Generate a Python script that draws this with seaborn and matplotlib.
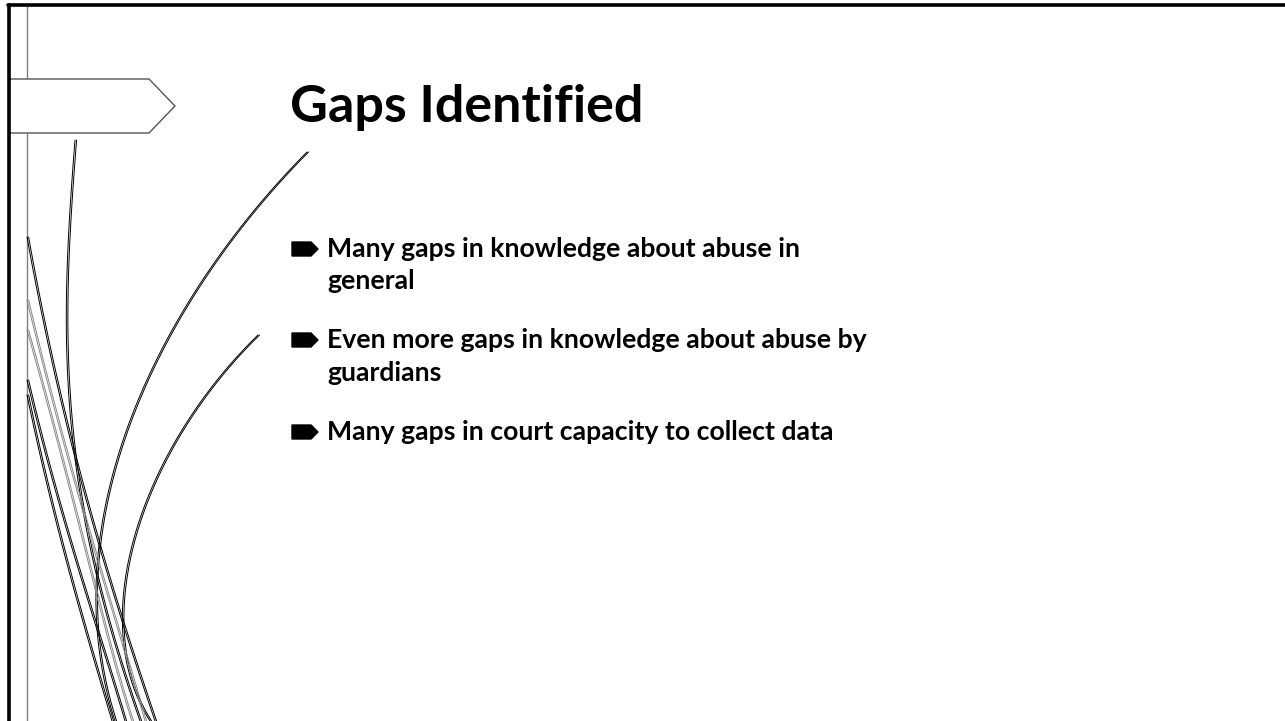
import matplotlib
matplotlib.use('Agg')
import matplotlib.pyplot as plt
import numpy as np
import pandas as pd
import seaborn as sns
from matplotlib.patches import Polygon

# slide text
title = 'Gaps Identified'
bullets = [
    ['Many gaps in knowledge about abuse in', 'general'],
    ['Even more gaps in knowledge about abuse by', 'guardians'],
    ['Many gaps in court capacity to collect data'],
]
line_baselines = [[257, 289], [348, 381], [440]]

# decorative swoosh curves (cubic bezier control points, pixel space)
curves_dark = [
    [(75, 140), (60, 330), (55, 480), (140, 721)],
    [(307, 152), (160, 300), (50, 520), (115, 721)],
    [(258, 335), (140, 450), (85, 620), (150, 721)],
    [(27, 237), (60, 420), (100, 560), (155, 721)],
    [(27, 380), (60, 520), (95, 620), (125, 721)],
    [(27, 395), (55, 530), (85, 630), (112, 721)],
]
curves_gray = [
    [(27, 300), (70, 480), (110, 600), (145, 721)],
    [(27, 330), (75, 500), (105, 640), (132, 721)],
]


def bezier(pts, n=120):
    """Sample a cubic bezier curve"""
    p = np.array(pts, dtype=float)
    t = np.linspace(0, 1, n)[:, None]
    return ((1 - t) ** 3) * p[0] + 3 * ((1 - t) ** 2) * t * p[1] \
        + 3 * (1 - t) * t ** 2 * p[2] + t ** 3 * p[3]


def curve_frame(curves, offset=1.6):
    rows = []
    for i, pts in enumerate(curves):
        xy = bezier(pts)
        for k, dx in enumerate([0.0, offset]):
            rows.append(pd.DataFrame({'x': xy[:, 0] + dx, 'y': xy[:, 1],
                                      'curve': '{}-{}'.format(i, k)}))
    return pd.concat(rows, ignore_index=True)


sns.set_theme(style='white')
plt.rcParams['font.family'] = ['Lato', 'DejaVu Sans']

fig = plt.figure(figsize=(12.85, 7.21), dpi=100)
ax = fig.add_axes([0, 0, 1, 1])

# frame lines
ax.plot([27, 27], [5, 721], color='#808080', lw=1.0, zorder=1)
ax.plot([8, 1285], [5, 5], color='black', lw=2.6, zorder=4)
ax.plot([9, 9], [5, 721], color='black', lw=2.6, zorder=4)

# swooshes
sns.lineplot(data=curve_frame(curves_dark), x='x', y='y', units='curve',
             estimator=None, sort=False, color='black', linewidth=0.7,
             legend=False, ax=ax)
sns.lineplot(data=curve_frame(curves_gray), x='x', y='y', units='curve',
             estimator=None, sort=False, color='#888888', linewidth=0.7,
             legend=False, ax=ax)

# signpost arrow
ax.add_patch(Polygon([(9, 79), (149, 79), (175, 106), (149, 133), (9, 133)],
                     closed=True, facecolor='white', edgecolor='#555555',
                     lw=1.0, zorder=3))

ax.text(290, 122, title, fontsize=37.5, fontweight='bold', color='black',
        ha='left', va='baseline')

for lines, bases in zip(bullets, line_baselines):
    mid = bases[0] - 8
    bx = [292, 311, 318, 311, 292]
    by = [mid - 7, mid - 7, mid, mid + 7, mid + 7]
    ax.fill(bx, by, color='black', zorder=3)
    for txt, yb in zip(lines, bases):
        ax.text(327, yb, txt, fontsize=19.2, fontweight='bold',
                color='black', ha='left', va='baseline')

ax.set_xlim(0, 1285)
ax.set_ylim(721, 0)
ax.axis('off')

fig.savefig('out.png', dpi=100, facecolor='white')
